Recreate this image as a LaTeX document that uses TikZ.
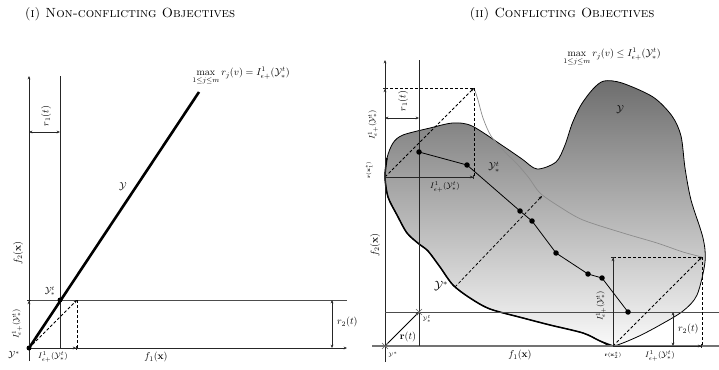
\documentclass[tikz,border=0pt]{standalone}
\usepackage{amsmath,amssymb}
\usetikzlibrary{arrows.meta}
\tikzset{
  tip/.tip={Stealth[length=3.4pt,width=2.8pt]},
  axisline/.style={line width=0.9pt,black!85,-tip},
  guide/.style={line width=0.8pt,black!85},
  hline/.style={line width=0.9pt,black!70},
  dimboth/.style={line width=0.8pt,black!85,tip-tip},
  dimbar/.style={line width=0.8pt,black!85,-{tip[]Bar[width=4pt]}},
  dshline/.style={dashed,line width=0.75pt,dash pattern=on 3pt off 2pt},
  dsharrow/.style={dashed,line width=0.75pt,dash pattern=on 3pt off 2pt,-tip},
  chaindot/.style={circle,fill=black,inner sep=0pt,minimum size=5.5pt},
  smalldot/.style={circle,fill=black,inner sep=0pt,minimum size=5pt},
  lab/.style={font=\normalsize,inner sep=1pt},
  elab/.style={font=\footnotesize,inner sep=0.5pt},
  tinylab/.style={font=\tiny,inner sep=0.5pt},
  ttl/.style={font=\fontsize{13.3}{16}\selectfont,inner sep=1pt},
  xmark/.style={line width=0.5pt,black!60},
}
\newcommand{\Ieps}{I^1_{\epsilon+}(\mathcal{Y}^t_*)}
\begin{document}
\begin{tikzpicture}[x=1pt,y=-1pt]
\useasboundingbox (0,0) rectangle (719,369);

% titles
\node[ttl] (t1) at (130,14) {\textsc{(i) Non-conflicting Objectives}};
\node[ttl] (t2) at (562,14) {\textsc{(ii) Conflicting Objectives}};

% ================= LEFT PANEL =================
\coordinate (Lo) at (29,348);
\coordinate (Lq) at (60,300);
\coordinate (Lc) at (77,300);
\coordinate (Lcb) at (77,348);
\coordinate (Lyl) at (29,300);
\coordinate (Ltop) at (199,92);

\draw[axisline] (29,361) -- (29,76);
\draw[axisline] (27,348) -- (347,348);
\draw[guide] (60,76) -- (60,348);
\draw[hline] (29,300) -- (347,300);

% r1(t)
\draw[dimboth] (29,132) -- (60,132);
\node[lab,rotate=90] (r1l) at (46,116) {$r_1(t)$};

% r2(t)
\draw[dimboth] (332,300) -- (332,348);
\node[lab,anchor=west] (r2l) at (336,322) {$r_2(t)$};

% Y line
\draw[line width=2.6pt] (Lo) -- (Ltop);
\node[lab] (Ylab) at (123,187) {$\mathcal{Y}$};
\node[lab] (maxL) at (241,76) {$\displaystyle\max_{1\le j\le m} r_j(v) = \Ieps$};

% epsilon construction
\draw[dsharrow] (Lo) -- (Lc);
\draw[dshline] (Lc) -- (Lcb);
\draw[dimbar] (Lo) -- (Lcb);
\draw[dimbar] (Lo) -- (Lyl);

\node[smalldot] (d1) at (Lo) {};
\node[smalldot] (d2) at (Lq) {};

\node[elab,font=\small] (ytl) at (50,291) {$\mathcal{Y}^t_*$};
\node[elab,font=\small] (ysl) at (14,355) {$\mathcal{Y}^*$};
\node[elab] (ibl) at (53,357) {$\Ieps$};
\node[elab,rotate=90] (ivl) at (17,324) {$\Ieps$};
\node[lab,rotate=90] (f2l) at (18,253) {$f_2(\mathbf{x})$};
\node[lab] (f1l) at (156,357) {$f_1(\mathbf{x})$};

% ================= RIGHT PANEL =================
\def\shapepts{(385,177) (387,158) (393,143) (403,135) (430,128) (453,123) (472,126) (503,146) (522,159) (537,169) (556,162) (565,145) (572,124) (581,105) (593,89) (604,81) (622,83) (653,97) (672,116) (681,136) (685,168) (691,200) (703,238) (705,262) (697,295) (683,311) (660,325) (637,337) (613,346) (600,341) (583,333) (550,325) (523,318) (490,309) (470,298) (453,285) (440,267) (428,251) (419,244) (407,233) (397,215) (388,197)}
\shade[top color=black!57,bottom color=black!2] plot[smooth cycle,tension=0.5] coordinates {\shapepts};
\draw[line width=0.8pt] plot[smooth cycle,tension=0.5] coordinates {\shapepts};
\draw[line width=1.5pt] plot[smooth,tension=0.5] coordinates {(613,346) (600,341) (583,333) (550,325) (523,318) (490,309) (470,298) (453,285) (440,267) (428,251) (419,244) (407,233) (397,215) (388,197) (385,177) (387,158)};

% gray front curve
\draw[black!45,line width=0.7pt] plot[smooth,tension=0.5] coordinates {(474,88) (478,100) (483,118) (491,136) (504,151) (518,165) (529,178) (540,193) (560,207) (583,220) (623,233) (657,243) (683,252) (702,257)};

% axes
\draw[axisline] (385,362) -- (385,60);
\draw[line width=1.5pt,black!55] (372,346) -- (719,346);
\draw[guide] (419,60) -- (419,346);
\draw[hline] (385,312) -- (719,312);

% r1(t)
\draw[dimboth] (385,118) -- (419,118);
\node[lab,rotate=90] (rr1l) at (403,101) {$r_1(t)$};

% r(t)
\coordinate (Ro) at (385,346);
\coordinate (Rq) at (419,312);
\draw[line width=0.8pt,-tip] (Ro) -- (Rq);
\draw[xmark] (382,343) -- (388,349) (382,349) -- (388,343);
\draw[xmark] (416,309) -- (422,315) (416,315) -- (422,309);
\node[lab] (rtl) at (408,337) {$\mathbf{r}(t)$};
\node[tinylab] (rys) at (393,355) {$\mathcal{Y}^*$};
\node[tinylab] (ryt) at (427,319) {$\mathcal{Y}^t_*$};

% top-left epsilon construction
\coordinate (X1) at (385,177);
\coordinate (C1) at (474,88);
\coordinate (C1b) at (474,177);
\coordinate (C1l) at (385,88);
\draw[dsharrow] (X1) -- (C1);
\draw[dshline] (C1l) -- (C1);
\draw[dshline] (C1) -- (C1b);
\draw[dimbar] (X1) -- (C1b);
\draw[dimbar] (X1) -- (C1l);
\node[elab] (ihl) at (445,187) {$\Ieps$};
\node[elab,rotate=90] (ivr) at (373,125) {$\Ieps$};
\node[tinylab,rotate=90] (rx1) at (369,170) {$\mathbf{r}(\mathbf{x}^*_1)$};

% bottom-right epsilon construction
\coordinate (X2) at (613,346);
\coordinate (C2) at (702,257);
\coordinate (C2b) at (702,346);
\coordinate (C2l) at (613,257);
\draw[dsharrow] (X2) -- (C2);
\draw[dshline] (C2l) -- (C2);
\draw[dshline] (C2) -- (C2b);
\draw[dimbar] (X2) -- (C2l);
\draw[dimbar] (X2) -- (C2b);
\node[elab] (ihr) at (660,356) {$\Ieps$};
\node[elab,rotate=90] (ivr2) at (601,306) {$\Ieps$};
\node[tinylab] (rx2) at (613,355) {$\mathbf{r}(\mathbf{x}^*_2)$};

% r2(t)
\draw[dimboth] (673,312) -- (673,346);
\node[lab,anchor=west] (rr2l) at (677,329) {$r_2(t)$};

% Y* dashed arrow
\coordinate (Ys) at (455,287);
\coordinate (Ye) at (542,196);
\draw[dsharrow] (Ys) -- (Ye);
\node[lab,font=\large] (Ysl) at (441,286) {$\mathcal{Y}^*$};

% chain
\draw[line width=0.8pt] (419,152) -- (467,165) -- (520,211) -- (532,221) -- (556,253) -- (588,274) -- (602,278) -- (628,312);
\foreach \p in {(419,152),(467,165),(520,211),(532,221),(556,253),(588,274),(602,278),(628,312)}
  \node[chaindot] at \p {};

% labels
\node[lab] (ytr) at (494,167) {$\mathcal{Y}^t_*$};
\node[lab] (Yr) at (620,110) {$\mathcal{Y}$};
\node[lab] (maxR) at (612,57) {$\displaystyle\max_{1\le j\le m} r_j(v) \le \Ieps$};
\node[lab,rotate=90] (f2r) at (375,245) {$f_2(\mathbf{x})$};
\node[lab] (f1r) at (520,355) {$f_1(\mathbf{x})$};

\end{tikzpicture}
\end{document}
